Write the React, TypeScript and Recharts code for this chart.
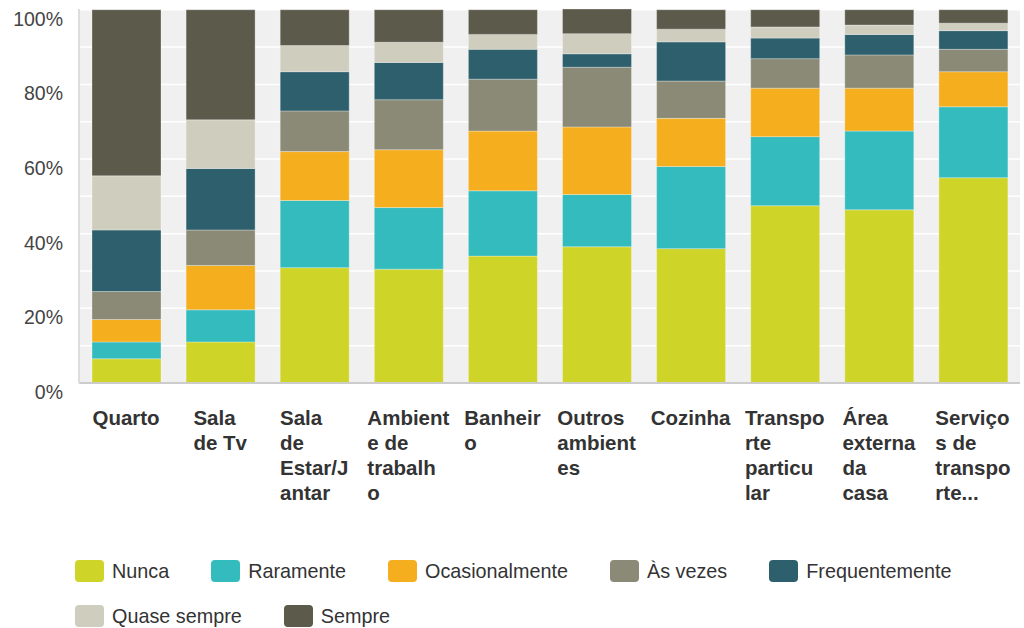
import { BarChart, Bar, XAxis, YAxis, CartesianGrid } from "recharts";

const categories = [
  "Quarto",
  "Sala de Tv",
  "Sala de Estar/Jantar",
  "Ambiente de trabalho",
  "Banheiro",
  "Outros ambientes",
  "Cozinha",
  "Transporte particular",
  "Área externa da casa",
  "Serviços de transporte...",
];

// wrapped tick labels, as the original breaks them
const tickLines = [
  ["Quarto"],
  ["Sala", "de Tv"],
  ["Sala", "de", "Estar/J", "antar"],
  ["Ambient", "e de", "trabalh", "o"],
  ["Banheir", "o"],
  ["Outros", "ambient", "es"],
  ["Cozinha"],
  ["Transpo", "rte", "particu", "lar"],
  ["Área", "externa", "da", "casa"],
  ["Serviço", "s de", "transpo", "rte..."],
];

const nunca = [6.5, 11, 30.9, 30.5, 34, 36.5, 36, 47.5, 46.4, 55];
const raramente = [4.5, 8.6, 18, 16.5, 17.5, 14, 22, 18.5, 21.1, 19];
const ocasionalmente = [6, 11.9, 13.1, 15.5, 16, 18.1, 12.9, 13, 11.5, 9.4];
const asVezes = [7.5, 9.5, 10.9, 13.4, 13.9, 16, 10, 7.9, 8.9, 6];
const frequentemente = [16.5, 16.5, 10.5, 10, 8, 3.6, 10.5, 5.5, 5.5, 5];
const quaseSempre = [14.5, 13, 7, 5.4, 4, 5.4, 3.4, 3, 2.5, 2];
const sempre = [44.5, 29.5, 9.6, 8.7, 6.6, 6.6, 5.2, 4.6, 4.1, 3.6];

const yTicks = [0, 10, 20, 30, 40, 50, 60, 70, 80, 90, 100];

const series = [
  { key: "nunca", name: "Nunca", values: nunca, color: "#cfd428" },
  { key: "raramente", name: "Raramente", values: raramente, color: "#33bbbe" },
  { key: "ocasionalmente", name: "Ocasionalmente", values: ocasionalmente, color: "#f5ae1e" },
  { key: "asVezes", name: "Às vezes", values: asVezes, color: "#8a8a77" },
  { key: "frequentemente", name: "Frequentemente", values: frequentemente, color: "#2e5f6c" },
  { key: "quaseSempre", name: "Quase sempre", values: quaseSempre, color: "#cfcdbd" },
  { key: "sempre", name: "Sempre", values: sempre, color: "#5c5a4b" },
];

const data = categories.map((c, i) => {
  const row: Record<string, string | number> = { category: c };
  series.forEach((s) => (row[s.key] = s.values[i]));
  return row;
});

const FONT = "'Liberation Sans', Arial, sans-serif";

let ctx: CanvasRenderingContext2D | null = null;
function textWidth(t: string, font: string) {
  if (!ctx) ctx = document.createElement("canvas").getContext("2d");
  if (!ctx) return t.length * 10;
  ctx.font = font;
  return ctx.measureText(t).width;
}

const CategoryTick = (props: any) => {
  const { x, y, index } = props;
  const lines = tickLines[index] ?? [];
  const font = `bold 20.5px ${FONT}`;
  const w = Math.max(...lines.map((l) => textWidth(l, font)));
  const left = x - w / 2;
  return (
    <g>
      {lines.map((l, i) => (
        <text key={i} x={left} y={y + 34 + i * 25} textAnchor="start" fontFamily={FONT} fontWeight="bold" fontSize={20.5} fill="#333">
          {l}
        </text>
      ))}
    </g>
  );
};

const PercentTick = (props: any) => {
  const { x, y, payload } = props;
  if (payload.value % 20 !== 0) return null;
  return (
    <text x={x - 8} y={y + 16} textAnchor="end" fontFamily={FONT} fontSize={19.5} fill="#444">
      {`${payload.value}%`}
    </text>
  );
};

export default function App() {
  return (
    <div style={{ position: "absolute", left: 0, top: 0, width: 1024, height: 628, background: "#fff" }}>
      <BarChart width={1024} height={628} data={data} margin={{ top: 9, right: 4, left: 0, bottom: 0 }}>
        <CartesianGrid vertical={false} fill="#f0f0f0" stroke="#ffffff" strokeWidth={1.5} />
        <XAxis dataKey="category" height={245} tickLine={false} axisLine={{ stroke: "#cccccc", strokeWidth: 2 }} tick={<CategoryTick />} interval={0} />
        <YAxis
          width={79}
          domain={[0, 100]}
          ticks={yTicks}
          tickLine={false}
          axisLine={{ stroke: "#dddddd", strokeWidth: 2 }}
          tick={<PercentTick />}
        />
        {series.map((s) => (
          <Bar
            key={s.key}
            dataKey={s.key}
            name={s.name}
            stackId="a"
            fill={s.color}
            barSize={69}
            stroke="rgba(255,255,255,0.3)"
            strokeWidth={1}
            isAnimationActive={false}
          />
        ))}
      </BarChart>
      <div
        style={{
          position: "absolute",
          left: 75,
          top: 560,
          width: 940,
          display: "flex",
          flexWrap: "wrap",
          columnGap: 42,
          rowGap: 23,
          fontFamily: FONT,
          fontSize: 19.8,
          color: "#333",
        }}
      >
        {series.map((s) => (
          <div key={s.key} style={{ display: "flex", alignItems: "center", height: 22 }}>
            <span style={{ width: 29, height: 22, borderRadius: 4, background: s.color, marginRight: 8 }} />
            <span>{s.name}</span>
          </div>
        ))}
      </div>
    </div>
  );
}
